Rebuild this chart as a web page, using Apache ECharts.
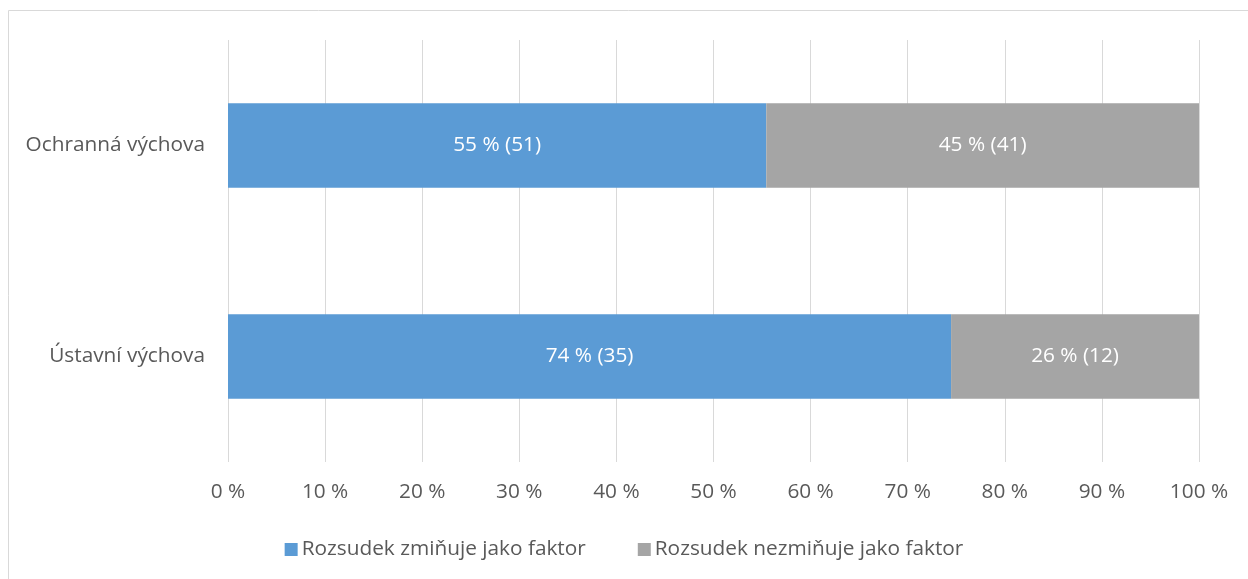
<!DOCTYPE html>
<html>
<head>
<meta charset="utf-8">
<script src="https://cdn.jsdelivr.net/npm/echarts@6/dist/echarts.min.js"></script>
<style>html,body{margin:0;padding:0;background:#fff}#c{width:1248px;height:579px}</style>
</head>
<body>
<div id="c"></div>
<script>
const categories = ['Ústavní výchova', 'Ochranná výchova'];
const seriesNames = ['Rozsudek zmiňuje jako faktor', 'Rozsudek nezmiňuje jako faktor'];
const countsMentions = [35, 51];
const countsNotMentions = [12, 41];
const xTickLabels = ['0 %','10 %','20 %','30 %','40 %','50 %','60 %','70 %','80 %','90 %','100 %'];

const totals = countsMentions.map((v, i) => v + countsNotMentions[i]);
const pct = arr => arr.map((v, i) => v / totals[i] * 100);
const pMent = pct(countsMentions);
const pNot = pct(countsNotMentions);

const FONT = '"Open Sans", "Noto Sans", sans-serif';
const FS = 20.8;
const chart = echarts.init(document.getElementById('c'));
function mk(name, pcts, counts, color) {
  return {
    name: name, type: 'bar', stack: 'a', barCategoryGap: '60%',
    itemStyle: { color: color },
    data: pcts.map((p, i) => ({ value: p, count: counts[i] })),
    label: {
      show: true, position: 'inside', color: '#ffffff', fontSize: FS, fontFamily: FONT,
      formatter: p => Math.round(p.value) + ' % (' + p.data.count + ')'
    }
  };
}
chart.setOption({
  animation: false,
  textStyle: { fontFamily: FONT },
  graphic: [{
    type: 'rect', shape: { x: 8.5, y: 10.5, width: 1250, height: 600 },
    style: { fill: 'none', stroke: '#d9d9d9', lineWidth: 1 }, silent: true
  }],
  grid: { left: 228, right: 49, top: 40, bottom: 117 },
  xAxis: {
    type: 'value', min: 0, max: 100, interval: 10,
    axisLine: { show: false }, axisTick: { show: false },
    splitLine: { lineStyle: { color: '#d9d9d9', width: 1 } },
    axisLabel: { color: '#595959', fontSize: FS, fontFamily: FONT, margin: 20,
      formatter: v => xTickLabels[Math.round(v / 10)] }
  },
  yAxis: {
    type: 'category', data: categories,
    axisLine: { show: false }, axisTick: { show: false },
    axisLabel: { color: '#595959', fontSize: FS, fontFamily: FONT, margin: 23 }
  },
  legend: {
    bottom: 14, left: 'center', itemWidth: 13, itemHeight: 13, itemGap: 52,
    icon: 'rect',
    textStyle: { color: '#595959', fontSize: FS, fontFamily: FONT, padding: [0, 0, 0, -1] },
    data: seriesNames
  },
  series: [
    mk(seriesNames[0], pMent, countsMentions, '#5b9bd5'),
    mk(seriesNames[1], pNot, countsNotMentions, '#a5a5a5')
  ]
});
</script>
</body>
</html>
